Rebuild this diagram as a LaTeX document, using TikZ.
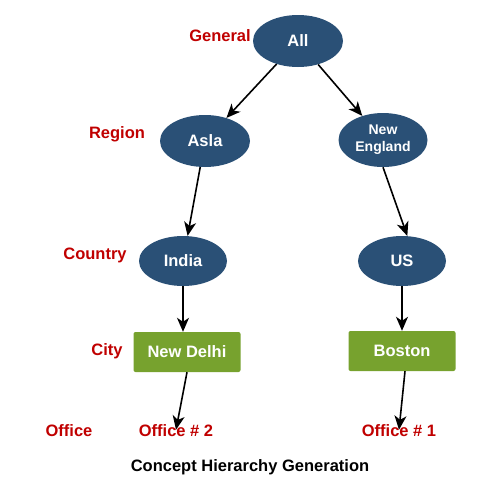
\documentclass[tikz,border=0pt]{standalone}
\usepackage{fontspec}
\setmainfont{Liberation Sans}
\usetikzlibrary{arrows.meta,shapes.geometric}
\definecolor{concept}{RGB}{42,80,118}
\definecolor{leaf}{RGB}{119,162,46}
\definecolor{level}{RGB}{192,0,0}

\begin{document}
\begin{tikzpicture}[
  x=1pt, y=-1pt,
  font=\fontsize{16.5}{19}\selectfont\bfseries,
  oval/.style={ellipse, fill=concept, text=white, minimum width=90pt, minimum height=52pt, inner sep=1pt, align=center},
  cityrect/.style={rectangle, rounded corners=2pt, fill=leaf, text=white, minimum width=107pt, minimum height=40pt},
  lvl/.style={text=level, inner sep=1pt},
  office/.style={text=level, inner sep=1pt},
  ar/.style={-{Stealth[length=14pt, width=12pt, inset=4pt]}, line width=1.6pt, black}
]
\useasboundingbox (0,0) rectangle (489,480);

% levels of the hierarchy
\node[lvl] (lgen) at (220,36) {General};
\node[lvl] (lreg) at (117,134) {Region};
\node[lvl] (lcou) at (95,255) {Country};
\node[lvl] (lcity) at (107,351) {City};
\node[lvl] (loff) at (69,431) {Office};

% concept nodes
\node[oval] (all) at (298,41) {All};
\node[oval] (asla) at (205,141) {Asla};
\node[oval, minimum width=89pt, minimum height=54pt, font=\fontsize{14}{17}\selectfont\bfseries] (ne) at (383,140) {New\\England};
\node[oval, minimum width=88pt, minimum height=50pt] (india) at (183,261) {India};
\node[oval, minimum width=88pt, minimum height=50pt] (us) at (402,261) {US};
\node[cityrect] (delhi) at (187,352) {New Delhi};
\node[cityrect] (boston) at (402,351) {Boston};
\node[office] (off2) at (176,431) {Office \# 2};
\node[office] (off1) at (399,431) {Office \# 1};

\node (title) at (250,467) {Concept Hierarchy Generation};

\draw[ar] (all) -- (asla);
\draw[ar] (all) -- (ne);
\draw[ar] (asla) -- (india);
\draw[ar] (ne.south) -- (us.78);
\draw[ar] (india.south) -- (india.south |- delhi.north);
\draw[ar] (us.south) -- (us.south |- boston.north);
\draw[ar] (delhi.south) -- ([yshift=-6pt]off2.north);
\draw[ar] ([xshift=3pt]boston.south) -- ([yshift=-6pt]off1.north);
\end{tikzpicture}
\end{document}
